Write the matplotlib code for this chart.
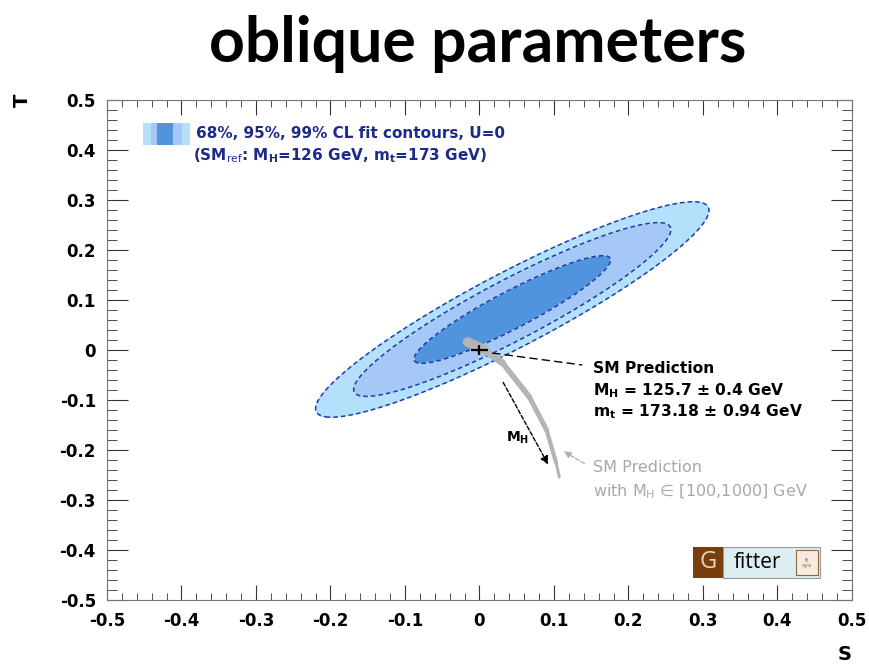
import matplotlib
matplotlib.use("Agg")
import matplotlib.pyplot as plt
import numpy as np
from matplotlib.collections import LineCollection
from matplotlib.patches import Rectangle

# fit result for S, T (U=0)
fit_center = (0.044, 0.081)
fit_sigma = (0.087, 0.071)
fit_rho = 0.92
# delta chi2 for 68%, 95%, 99% CL in two dimensions
cl_levels = [2.30, 5.99, 9.21]
cl_colors = ["#4f94dc", "#a6c8f6", "#b4e0fc"]

# SM reference point and its error
sm_point = (0.0, 0.0)
sm_err = (0.012, 0.010)

# SM prediction with M_H scanned over [100, 1000] GeV
mh_band_s = [-0.016, 0.007, 0.031, 0.067, 0.090, 0.103, 0.107]
mh_band_t = [0.016, 0.000, -0.026, -0.094, -0.160, -0.226, -0.254]
mh_band_w = [7.0, 5.0, 4.0, 3.6, 3.0, 2.2, 1.5]

x_ticks = [-0.5, -0.4, -0.3, -0.2, -0.1, 0.0, 0.1, 0.2, 0.3, 0.4, 0.5]
x_labels = ["-0.5", "-0.4", "-0.3", "-0.2", "-0.1", "0", "0.1", "0.2", "0.3", "0.4", "0.5"]
y_ticks = x_ticks
y_labels = x_labels

plt.rcParams["font.family"] = "DejaVu Sans"
plt.rcParams["mathtext.fontset"] = "custom"
plt.rcParams["mathtext.rm"] = "DejaVu Sans"
plt.rcParams["mathtext.it"] = "DejaVu Sans:bold"
plt.rcParams["mathtext.bf"] = "DejaVu Sans:bold"

fig = plt.figure(figsize=(8.69, 6.68), dpi=100)
ax = fig.add_axes([107 / 869, 68 / 668, 745 / 869, 500 / 668])

# chi2 surface of the correlated gaussian
s = np.linspace(-0.5, 0.5, 701)
t = np.linspace(-0.5, 0.5, 701)
S, T = np.meshgrid(s, t)
zs = (S - fit_center[0]) / fit_sigma[0]
zt = (T - fit_center[1]) / fit_sigma[1]
chi2 = (zs ** 2 - 2 * fit_rho * zs * zt + zt ** 2) / (1 - fit_rho ** 2)

ax.contourf(S, T, chi2, levels=[0] + cl_levels, colors=cl_colors, zorder=1)
ax.contour(S, T, chi2, levels=cl_levels, colors="#1e3caa", linewidths=1.1,
           linestyles=[(0, (3, 2))], zorder=2)

# M_H band
pts = np.column_stack([mh_band_s, mh_band_t])
segs = [pts[i:i + 2] for i in range(len(pts) - 1)]
lc = LineCollection(segs, linewidths=mh_band_w[:-1], colors="#b4b4b4",
                    capstyle="round", joinstyle="round", zorder=3)
ax.add_collection(lc)

# SM point
ax.errorbar([sm_point[0]], [sm_point[1]], xerr=[sm_err[0]], yerr=[sm_err[1]],
            fmt="none", ecolor="black", elinewidth=1.6, zorder=4)

# annotations
ax.plot([0.017, 0.138], [-0.006, -0.030], color="black", lw=1,
        ls=(0, (6, 3)), zorder=4)
ax.annotate("", xy=(0.094, -0.234), xytext=(0.030, -0.060),
            arrowprops=dict(arrowstyle="-|>", color="black", lw=1,
                            ls=(0, (3, 1.5)), mutation_scale=12), zorder=4)
ax.text(0.051, -0.176, r"M$_{H}$", fontsize=10, fontweight="bold",
        ha="center", va="center")

ax.annotate("", xy=(0.110, -0.200), xytext=(0.144, -0.230),
            arrowprops=dict(arrowstyle="-|>", color="#b0b0b0", lw=1,
                            ls=(0, (3, 1.5)), mutation_scale=10), zorder=4)

bold = dict(fontsize=11.2, fontweight="bold", va="center", ha="left")
ax.text(0.152, -0.036, "SM Prediction", **bold)
ax.text(0.152, -0.082, r"M$_{H}$ = 125.7 ± 0.4 GeV", **bold)
ax.text(0.152, -0.124, r"m$_{t}$ = 173.18 ± 0.94 GeV", **bold)

grey = dict(fontsize=11.5, color="#a8a8a8", va="center", ha="left")
ax.text(0.152, -0.234, "SM Prediction", **grey)
ax.text(0.152, -0.284, r"with M$_{\mathrm{H}}$ ∈ [100,1000] GeV", **grey)

# legend
def afrac(px, py):
    return (px - 107) / 745, (600 - py) / 500

for (x0, x1), c in zip([(143, 190), (151, 182), (157, 173)], cl_colors[::-1]):
    xa, ya = afrac(x0, 145)
    xb, _ = afrac(x1, 145)
    ax.add_patch(Rectangle((xa, ya), xb - xa, 22 / 500, transform=ax.transAxes,
                           facecolor=c, edgecolor="none", zorder=5))
navy = "#1c2a8a"
lx, ly = afrac(196, 133)
ax.text(lx, ly, "68%, 95%, 99% CL fit contours, U=0", transform=ax.transAxes,
        fontsize=11, fontweight="bold", color=navy, va="center", ha="left")
lx, ly = afrac(193, 156)
ax.text(lx, ly, r"(SM$_{\mathrm{ref}}$: M$_{H}$=126 GeV, m$_{t}$=173 GeV)",
        transform=ax.transAxes, fontsize=11, fontweight="bold", color=navy,
        va="center", ha="left")

# Gfitter logo
gx, gy = afrac(693, 578)
gx1, _ = afrac(723, 578)
gx2, _ = afrac(820, 578)
gh = 31 / 500
ax.add_patch(Rectangle((gx1, gy), gx2 - gx1, gh, transform=ax.transAxes,
                       facecolor="#dcedf2", edgecolor="#9a9a9a", lw=0.8, zorder=5))
ax.add_patch(Rectangle((gx, gy), gx1 - gx, gh, transform=ax.transAxes,
                       facecolor="#7a3d0c", edgecolor="none", zorder=6))
ax.text((gx + gx1) / 2, gy + gh / 2, "G", transform=ax.transAxes, fontsize=17,
        color="#ead6bd", family="Open Sans", ha="center", va="center", zorder=7)
ax.text(afrac(758, 0)[0], gy + gh / 2, "fitter", transform=ax.transAxes,
        fontsize=15, color="black", family="Open Sans", ha="center", va="center",
        zorder=7)
bx, by = afrac(796, 575)
bx1, _ = afrac(818, 575)
ax.add_patch(Rectangle((bx, by), bx1 - bx, 25 / 500, transform=ax.transAxes,
                       facecolor="#f4ece0", edgecolor="#8a6a40", lw=0.8, zorder=7))
ax.text((bx + bx1) / 2, by + 12.5 / 500, "fi\nsys", transform=ax.transAxes,
        fontsize=4.5, color="#9a6a30", ha="center", va="center",
        linespacing=1.0, zorder=8)

# axes
ax.set_xlim(-0.5, 0.5)
ax.set_ylim(-0.5, 0.5)
ax.set_xticks(x_ticks)
ax.set_xticklabels(x_labels)
ax.set_yticks(y_ticks)
ax.set_yticklabels(y_labels)
ax.set_xticks(np.arange(-0.5, 0.501, 0.02), minor=True)
ax.set_yticks(np.arange(-0.5, 0.501, 0.02), minor=True)
ax.tick_params(which="both", direction="in", top=True, right=True, color="#333333")
ax.tick_params(axis="x", which="major", length=11, pad=9)
ax.tick_params(axis="x", which="minor", length=5)
ax.tick_params(axis="y", which="major", length=15, pad=8)
ax.tick_params(axis="y", which="minor", length=7)
for lab in ax.get_xticklabels() + ax.get_yticklabels():
    lab.set_fontweight("bold")
    lab.set_fontsize(12)
for sp in ax.spines.values():
    sp.set_color("#777777")

fig.text(22 / 869, 1 - 100 / 668, "T", rotation=90, fontsize=14, fontweight="bold",
         ha="center", va="center")
fig.text(845 / 869, 1 - 655 / 668, "S", fontsize=14, fontweight="bold",
         ha="center", va="center")

fig.text(478 / 869, 1 - 44 / 668, "oblique parameters", fontsize=45,
         fontweight="bold", family="Lato", ha="center", va="center")

fig.savefig("out.png", dpi=100)
